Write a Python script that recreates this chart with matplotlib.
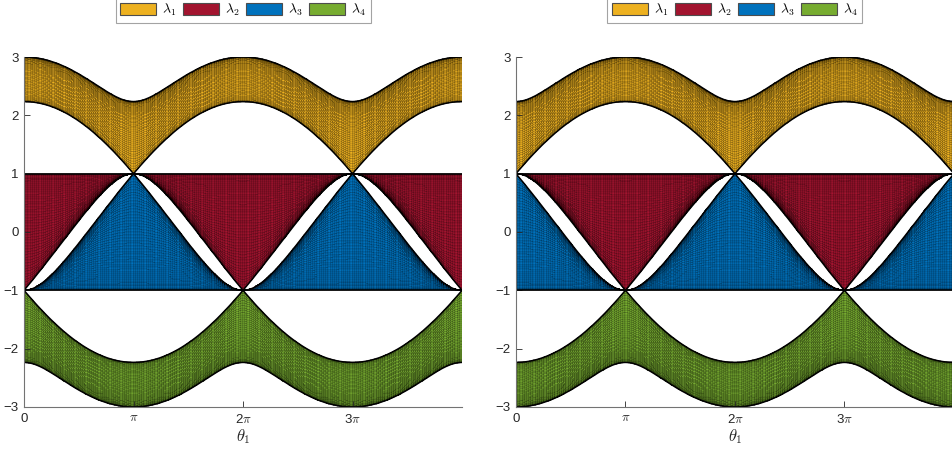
import numpy as np
import matplotlib
matplotlib.use('Agg')
import matplotlib.pyplot as plt
from matplotlib.colors import ListedColormap
from matplotlib.patches import Patch

plt.rcParams['font.family'] = ['Liberation Sans', 'DejaVu Sans']
plt.rcParams['mathtext.fontset'] = 'cm'

# parameter grids (theta1 on the x axis, theta2 swept as the mesh direction)
theta1 = np.linspace(0, 4 * np.pi, 201)
theta2 = np.linspace(2 * np.pi, 0, 101)   # descending: small theta2 drawn on top

# sign of the theta1 hopping term for the two panels
panel_signs = [1, -1]

band_labels = [r'$\lambda_1$', r'$\lambda_2$', r'$\lambda_3$', r'$\lambda_4$']
band_colors = ['#EDB120', '#A2142F', '#0072BD', '#77AC30']

xtick_vals = [0, np.pi, 2 * np.pi, 3 * np.pi]
xtick_labels = ['0', r'$\pi$', r'2$\pi$', r'3$\pi$']
ytick_vals = [-3, -2, -1, 0, 1, 2, 3]


def spectrum(t1, t2, sign):
    # K4 graph with a phase on edge (1,2) and on edge (3,4)
    T1, T2 = np.meshgrid(t1, t2, indexing='ij')
    H = np.ones(T1.shape + (4, 4), dtype=complex)
    for i in range(4):
        H[..., i, i] = 0
    H[..., 0, 1] = sign * np.exp(1j * T1)
    H[..., 1, 0] = np.conj(H[..., 0, 1])
    H[..., 2, 3] = np.exp(1j * T2)
    H[..., 3, 2] = np.conj(H[..., 2, 3])
    ev = np.linalg.eigvalsh(H)  # ascending
    return T1, ev[..., ::-1]    # lambda_1 = largest


fig = plt.figure(figsize=(9.53, 4.51), dpi=100)
positions = [[0.0252, 0.0976, 0.4596, 0.776], [0.5414, 0.0976, 0.4596, 0.776]]

for pos, sgn in zip(positions, panel_signs):
    ax = fig.add_axes(pos)
    X, ev = spectrum(theta1, theta2, sgn)
    for k in range(3, -1, -1):
        Y = ev[..., k]
        C = np.zeros((X.shape[0] - 1, X.shape[1] - 1))
        ax.pcolormesh(X, Y, C, cmap=ListedColormap([band_colors[k]]),
                      edgecolors='k', linewidth=0.1, shading='flat',
                      antialiased=True)
        # folded edges of the sheet show up as solid dark outlines
        ax.plot(theta1, Y.max(axis=1), color='k', lw=1.1)
        ax.plot(theta1, Y.min(axis=1), color='k', lw=1.1)
    ax.set_xlim(0, 4 * np.pi)
    ax.set_ylim(-3, 3)
    ax.set_xticks(xtick_vals)
    ax.set_xticklabels(xtick_labels)
    ax.set_yticks(ytick_vals)
    ax.tick_params(direction='in', length=4, width=0.6, labelsize=9.5,
                   colors='0.15', pad=4)
    for s in ['top', 'right']:
        ax.spines[s].set_visible(False)
    for s in ['left', 'bottom']:
        ax.spines[s].set_color('0.45')
        ax.spines[s].set_linewidth(0.8)
        ax.spines[s].set_zorder(5)
    ax.set_xlabel(r'$\theta_1$', fontsize=12, color='0.15', labelpad=1)

    handles = [Patch(facecolor=c, edgecolor='0.3', linewidth=0.8) for c in band_colors]
    leg = ax.legend(handles, band_labels, loc='lower center',
                    bbox_to_anchor=(0.5, 1.097), ncol=4, fancybox=False,
                    edgecolor='0.55', borderaxespad=0, handlelength=2.6,
                    handleheight=0.95, handletextpad=0.4, columnspacing=0.5,
                    borderpad=0.35, fontsize=10)
    leg.get_frame().set_linewidth(0.8)

fig.savefig('out.png', dpi=100)
